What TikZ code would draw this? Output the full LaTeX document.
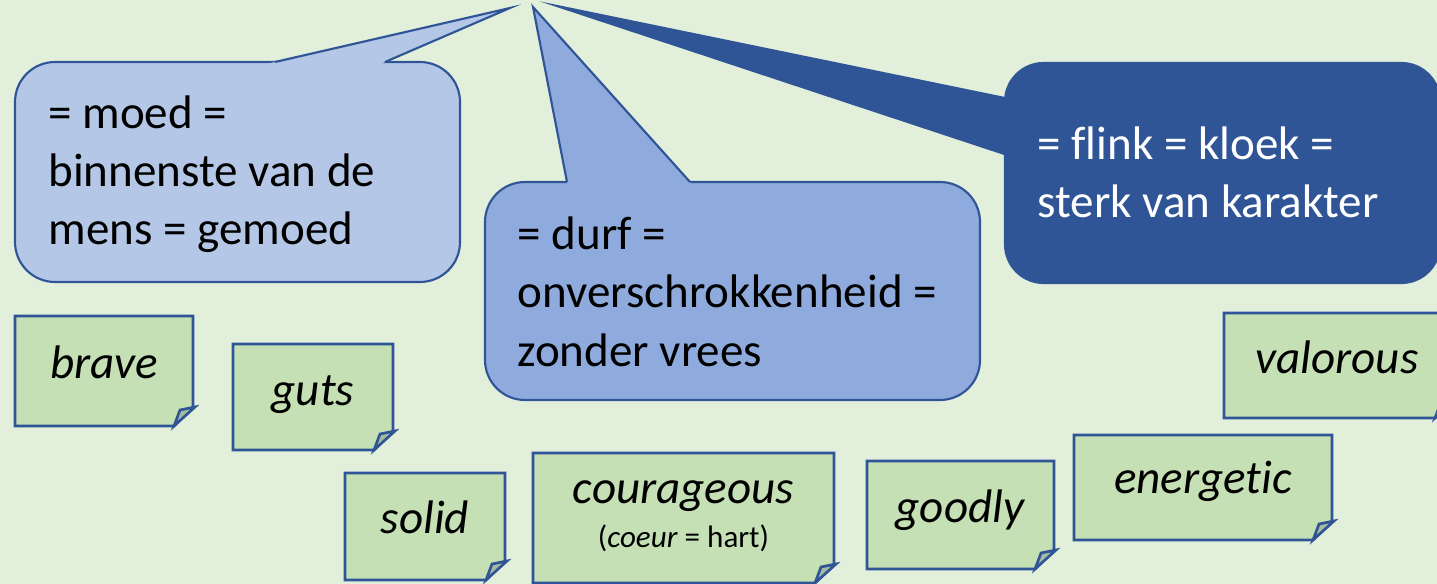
\documentclass[tikz,border=0pt]{standalone}
\usepackage{fontspec}
\setmainfont{Carlito}[Ligatures=NoCommon]

\definecolor{bgcol}{RGB}{226,239,218}
\definecolor{edgeblue}{RGB}{47,85,151}
\definecolor{bubbleA}{RGB}{180,199,231}
\definecolor{bubbleB}{RGB}{143,170,220}
\definecolor{notefill}{RGB}{197,224,180}
\definecolor{foldfill}{RGB}{166,188,160}

\tikzset{every picture/.style={line width=0.75pt}}
\tikzset{
  bubble/.style={draw=edgeblue, line width=1.6pt, line join=miter, miter limit=25},
  note/.style={draw=edgeblue, fill=notefill, line width=2pt, line join=miter},
  fold/.style={draw=edgeblue, fill=foldfill, line width=2pt, line join=miter},
  bubbletext/.style={anchor=base west, inner sep=0pt, align=left,
    font=\fontsize{35.3}{43.8}\selectfont},
  notetext/.style={anchor=base, inner sep=0pt,
    font=\itshape\fontsize{35.3}{42}\selectfont}
}

\begin{document}
\begin{tikzpicture}[x=0.75pt,y=0.75pt,yscale=-1,xscale=1]
		\useasboundingbox (0,0) rectangle (1437,584);
		\clip (0,0) rectangle (1437,584);
		\fill[bgcol] (0,0) rectangle (1437,584);
		
		%Shape: Speech Bubble (moed)
		\draw[bubble, fill=bubbleA, rounded corners=30pt] (15,62) rectangle (460,282);
		\fill[bubbleA] (262,65) -- (510,8) -- (378,65) -- cycle;
		\draw[bubble] (275,62) -- (510,8) -- (385,62);
		%Shape: Speech Bubble (durf)
		\draw[bubble, fill=bubbleB, rounded corners=30pt] (485,182) rectangle (980,400);
		\fill[bubbleB] (567.5,185) -- (533,7) -- (692.5,185) -- cycle;
		\draw[bubble] (567,182) -- (533,7) -- (690,182);
		%Shape: Speech Bubble (flink)
		\draw[bubble, fill=edgeblue, rounded corners=29pt] (1005,63) rectangle (1440,283);
		\filldraw[bubble, fill=edgeblue] (1012,99.5) -- (557,6) -- (1012,156.5) -- cycle;
		
		% last line is the base line
		\draw (48,245) node [bubbletext] (moedtxt) {= moed =\\binnenste van de\\mens = gemoed};
		\draw (517,366) node [bubbletext] (durftxt) {= durf =\\onverschrokkenheid =\\zonder vrees};
		\draw (1037,218) node [bubbletext, text=white] (flinktxt) {= flink = kloek =\\sterk van karakter};
		
		%Shape: Folded Corner (brave)
		\draw[note] (15,316) -- (193,316) -- (193,407) -- (174,426) -- (15,426) -- cycle;
		\draw[fold] (174,426) -- (195,407) -- (180,410) -- cycle;
		%Shape: Folded Corner (guts)
		\draw[note] (233,344) -- (393,344) -- (393,431) -- (374,450) -- (233,450) -- cycle;
		\draw[fold] (374,450) -- (395,431) -- (380,434) -- cycle;
		%Shape: Folded Corner (solid)
		\draw[note] (345,473) -- (505,473) -- (505,561) -- (486,580) -- (345,580) -- cycle;
		\draw[fold] (486,580) -- (507,561) -- (492,564) -- cycle;
		%Shape: Folded Corner (courageous)
		\draw[note] (533,453) -- (834,453) -- (834,564) -- (815,583) -- (533,583) -- cycle;
		\draw[fold] (815,583) -- (836,564) -- (821,567) -- cycle;
		%Shape: Folded Corner (goodly)
		\draw[note] (867,461) -- (1054,461) -- (1054,550) -- (1035,569) -- (867,569) -- cycle;
		\draw[fold] (1035,569) -- (1056,550) -- (1041,553) -- cycle;
		%Shape: Folded Corner (energetic)
		\draw[note] (1074,435) -- (1332,435) -- (1332,521) -- (1313,540) -- (1074,540) -- cycle;
		\draw[fold] (1313,540) -- (1334,521) -- (1319,524) -- cycle;
		%Shape: Folded Corner (valorous)
		\draw[note] (1224,313) -- (1454,313) -- (1454,399) -- (1435,418) -- (1224,418) -- cycle;
		\draw[fold] (1435,418) -- (1456,399) -- (1441,402) -- cycle;
		
		\draw (104,378) node [notetext] (brave) {brave};
		\draw (313,405) node [notetext] (guts) {guts};
		\draw (425,533) node [notetext] (solid) {solid};
		\draw (683.5,503) node [notetext] (courageous) {courageous};
		\draw (683.5,547) node [notetext, font=\fontsize{23.3}{28}\selectfont] (coeur) {(\textit{coeur} = hart)};
		\draw (960,522) node [notetext] (goodly) {goodly};
		\draw (1203,493) node [notetext] (energetic) {energetic};
		\draw (1337,373) node [notetext] (valorous) {valorous};
		
		
	\end{tikzpicture}
\end{document}
